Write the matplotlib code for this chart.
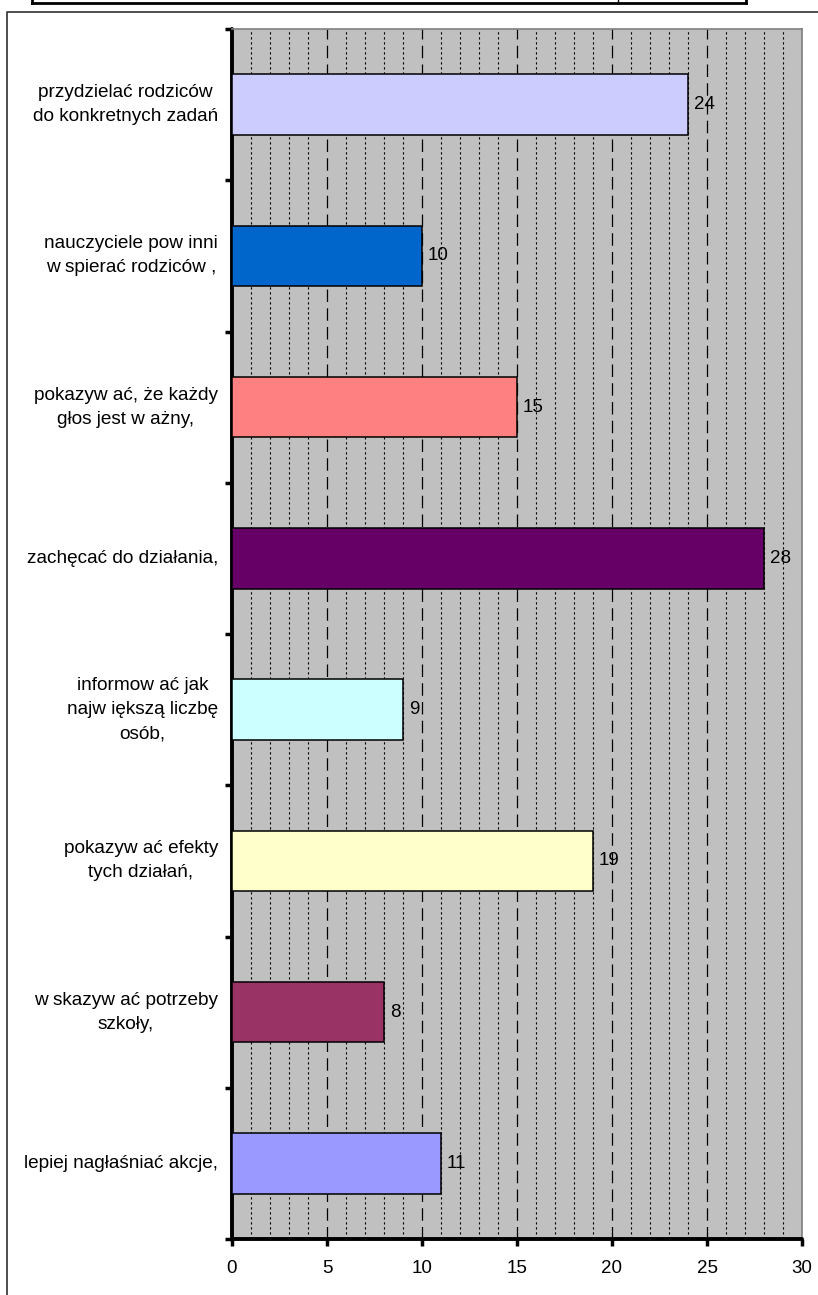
import numpy as np
import matplotlib.pyplot as plt
from matplotlib.lines import Line2D
from matplotlib.ticker import MultipleLocator
from matplotlib.transforms import blended_transform_factory

plt.rcParams['font.family'] = ['Liberation Sans', 'DejaVu Sans']

labels = ['przydzielać rodziców\ndo konkretnych zadań',
          'nauczyciele pow inni\nw spierać rodziców ,',
          'pokazyw ać, że każdy\ngłos jest w ażny,',
          'zachęcać do działania,',
          'informow ać jak\nnajw iększą liczbę\nosób,',
          'pokazyw ać efekty\ntych działań,',
          'w skazyw ać potrzeby\nszkoły,',
          'lepiej nagłaśniać akcje,']
values = [24, 10, 15, 28, 9, 19, 8, 11]
colors = ['#CCCCFF', '#0066CC', '#FF8080', '#660066',
          '#CCFFFF', '#FFFFCC', '#993366', '#9999FF']

W, H = 818, 1295
fig = plt.figure(figsize=(W / 100, H / 100), dpi=100)
ax = fig.add_axes([232 / W, (H - 1239) / H, (802 - 232) / W, (1239 - 29) / H])
ax.set_facecolor('#C0C0C0')

pos = np.arange(len(values))
ax.barh(pos, values, height=0.4, color=colors, edgecolor='black', linewidth=1.1, zorder=3)
for p, v in zip(pos, values):
    ax.text(v + 0.3, p, str(v), va='center', ha='left', fontsize=13.5, zorder=4)

ax.set_xlim(0, 30)
ax.set_ylim(len(values) - 0.5, -0.5)

# x axis
ax.xaxis.set_major_locator(MultipleLocator(5))
ax.xaxis.set_minor_locator(MultipleLocator(1))
ax.tick_params(axis='x', which='major', length=5, width=2.5, labelsize=13.5, pad=10)
ax.tick_params(axis='x', which='minor', length=0)
ax.grid(axis='x', which='major', color='black', linestyle=(0, (10, 5)), linewidth=0.9, zorder=1)
ax.grid(axis='x', which='minor', color='black', linestyle=(0, (2, 2.5)), linewidth=0.8, zorder=1)
ax.xaxis.get_gridlines()[-1].set_visible(False)
ax.xaxis.get_gridlines()[0].set_visible(False)

# y axis: ticks at category borders, labels drawn as text at centres
ax.set_yticks(np.arange(-0.5, len(values)), [''] * (len(values) + 1))
ax.tick_params(axis='y', which='major', length=5, width=2.5)
trans = blended_transform_factory(ax.transAxes, ax.transData)
for p, lab in zip(pos, labels):
    ax.text(-14 / 570, p, lab, transform=trans, ha='right', va='center',
            multialignment='center', linespacing=1.55, fontsize=13.7)

for s in ['left', 'bottom']:
    ax.spines[s].set_linewidth(2.8)
    ax.spines[s].set_color('black')
    ax.spines[s].set_capstyle('round')
for s in ['top', 'right']:
    ax.spines[s].set_linewidth(1.2)
    ax.spines[s].set_color('#808080')
ax.set_axisbelow(True)

# outer chart frame and table fragment at top
def fline(xs, ys, lw, color='black'):
    fig.add_artist(Line2D([x / W for x in xs], [1 - y / H for y in ys],
                          color=color, linewidth=lw, transform=fig.transFigure))

fline([7, 7, 818], [1295, 12, 12], 1.3, '#404040')
fline([32, 746], [3, 3], 2)
fline([32, 32], [0, 3], 2)
fline([618, 618], [0, 3], 1)
fline([746, 746], [0, 3], 2)

plt.savefig('out.png', dpi=100)
plt.close()
